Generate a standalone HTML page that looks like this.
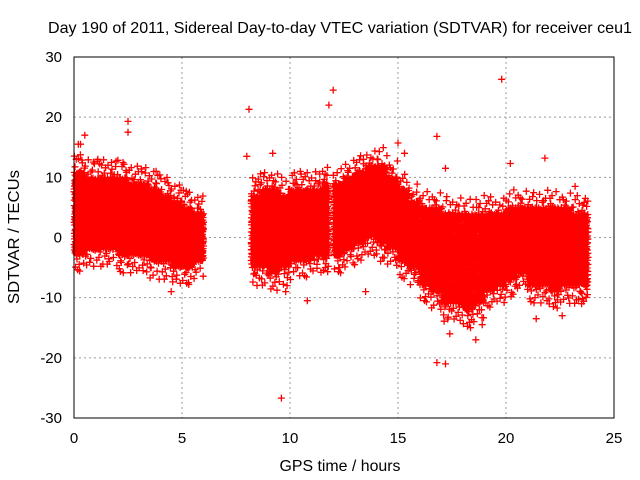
<!DOCTYPE html>
<html><head><meta charset="utf-8"><style>
body{margin:0;background:#fff;}
svg{display:block;font-family:"Liberation Sans",sans-serif;}
</style></head><body>
<svg id="chart" width="640" height="480" viewBox="0 0 640 480">
<rect x="0" y="0" width="640" height="480" fill="#fff"/>
<text x="340" y="33" font-size="16" text-anchor="middle" textLength="584" lengthAdjust="spacingAndGlyphs">Day 190 of 2011, Sidereal Day-to-day VTEC variation (SDTVAR) for receiver ceu1</text>
<g id="grid"></g>
<g id="points"></g>
<rect x="74" y="57" width="540" height="361" fill="none" stroke="#000" stroke-width="1"/>
<g id="ticks"></g>
<text x="340" y="471" font-size="16" text-anchor="middle" textLength="121" lengthAdjust="spacingAndGlyphs">GPS time / hours</text>
<text transform="translate(19,237) rotate(-90)" font-size="16" text-anchor="middle" textLength="134" lengthAdjust="spacingAndGlyphs">SDTVAR / TECUs</text>
</svg>
<script>
const xTicks=[0,5,10,15,20,25];
const yTicks=[-30,-20,-10,0,10,20,30];
// dense cloud bins: start hour, end hour, low, high
const binStart=[0,0.5,1,1.5,2,2.5,3,3.5,4,4.5,5,5.5,8.2,8.6,9,9.5,10,10.5,11,11.5,12,12.5,13,13.5,14,14.5,15,15.5,16,16.5,17,17.5,18,18.5,19,19.5,20,20.5,21,21.5,22,22.5,23,23.5];
const binEnd  =[0.5,1,1.5,2,2.5,3,3.5,4,4.5,5,5.5,6,8.6,9,9.5,10,10.5,11,11.5,11.8,12.5,13,13.5,14,14.5,15,15.5,16,16.5,17,17.5,18,18.5,19,19.5,20,20.5,21,21.5,22,22.5,23,23.5,23.8];
const binLow  =[-3,-2,-2,-2,-3,-3,-3,-4,-4,-5,-5,-4,-5,-5,-6,-5,-4,-4,-3,-3,-3,-2,-1,0,-1,-2,-4,-5,-8,-9,-11,-11,-12,-11,-9,-8,-7,-6,-8,-8,-9,-8,-8,-8];
const binHigh =[11,10,10,10,10,9,9,8,7,6,5,4,7,8,8,7,8,8,8,9,9,10,11,12,12,10,8,6,5,5,4,4,4,4,4,4,5,5,5,5,5,5,4,4];
const outX=[0.1,0.3,0.5,2.5,2.5,4.5,8.1,8,9.2,9.6,9.8,10.8,11.8,12,12.3,13.5,15,15.3,16.8,16.8,17.2,17.2,18.6,19.8,20.2,21.4,21.8,22.6,23.5,23.2,5.2,5.3,13.4,0.2,1.1,3.8,18.9,17.4];
const outY=[13,15.5,17,19.3,17.5,-9,21.3,13.5,14,-26.7,-9,-10.5,22,24.5,-5,-9,15.7,14,16.8,-20.8,-21,11.5,-17,26.3,12.3,-13.5,13.2,-13,-11,8.5,7.7,-7.5,13,15.5,13,11,-14.5,-16];
const X=v=>74+v*540/25, Y=v=>237.5-v*361/60;
const NS="http://www.w3.org/2000/svg";
const grid=document.getElementById('grid'),ticks=document.getElementById('ticks'),pts=document.getElementById('points');
function mk(tag,attrs,parent){const e=document.createElementNS(NS,tag);for(const k in attrs)e.setAttribute(k,attrs[k]);parent.appendChild(e);return e;}
xTicks.forEach(t=>{
 if(t>0&&t<25){const g=mk('line',{x1:X(t),x2:X(t),y1:57,y2:418,stroke:'#999','stroke-dasharray':'2,3'},grid);
 
 }
 const l=mk('text',{x:X(t),y:443,'font-size':15,'text-anchor':'middle'},ticks);l.textContent=t;
 
 
});
yTicks.forEach(t=>{
 if(t>-30&&t<30){const g=mk('line',{x1:74,x2:614,y1:Y(t),y2:Y(t),stroke:'#999','stroke-dasharray':'2,3'},grid);
 
 }
 const l=mk('text',{x:62,y:Y(t)+5,'font-size':15,'text-anchor':'end'},ticks);l.textContent=t;
 
 
});
let d='';
function plus(x,y){const px=X(x),py=Y(y);d+=`M${(px-3.5).toFixed(1)} ${py.toFixed(1)}h7M${px.toFixed(1)} ${(py-3.5).toFixed(1)}v7`;}
function halton(i,b){let f=1,r=0;while(i>0){f/=b;r+=f*(i%b);i=Math.floor(i/b);}return r;}
let k=1;
binStart.forEach((s,i)=>{
 const e=binEnd[i],lo=binLow[i],hi=binHigh[i];
 const n=Math.round(220*(e-s)/0.5);
 for(let j=0;j<n;j++,k++){
  const u=halton(k,2),v=halton(k,3);
  plus(s+u*(e-s),lo+v*(hi-lo));
 }
 for(let j=0;j<14;j++,k++){
  const u=halton(k,2),v=halton(k,3);
  const mid=(lo+hi)/2,half=(hi-lo)/2;
  plus(s+u*(e-s),mid+(v<0.5?-1:1)*(half+Math.abs(v-0.5)*6));
 }
});
outX.forEach((x,i)=>plus(x,outY[i]));
const p=mk('path',{d:d,stroke:'#f00','stroke-width':1.3,fill:'none'},pts);


</script>
</body></html>
